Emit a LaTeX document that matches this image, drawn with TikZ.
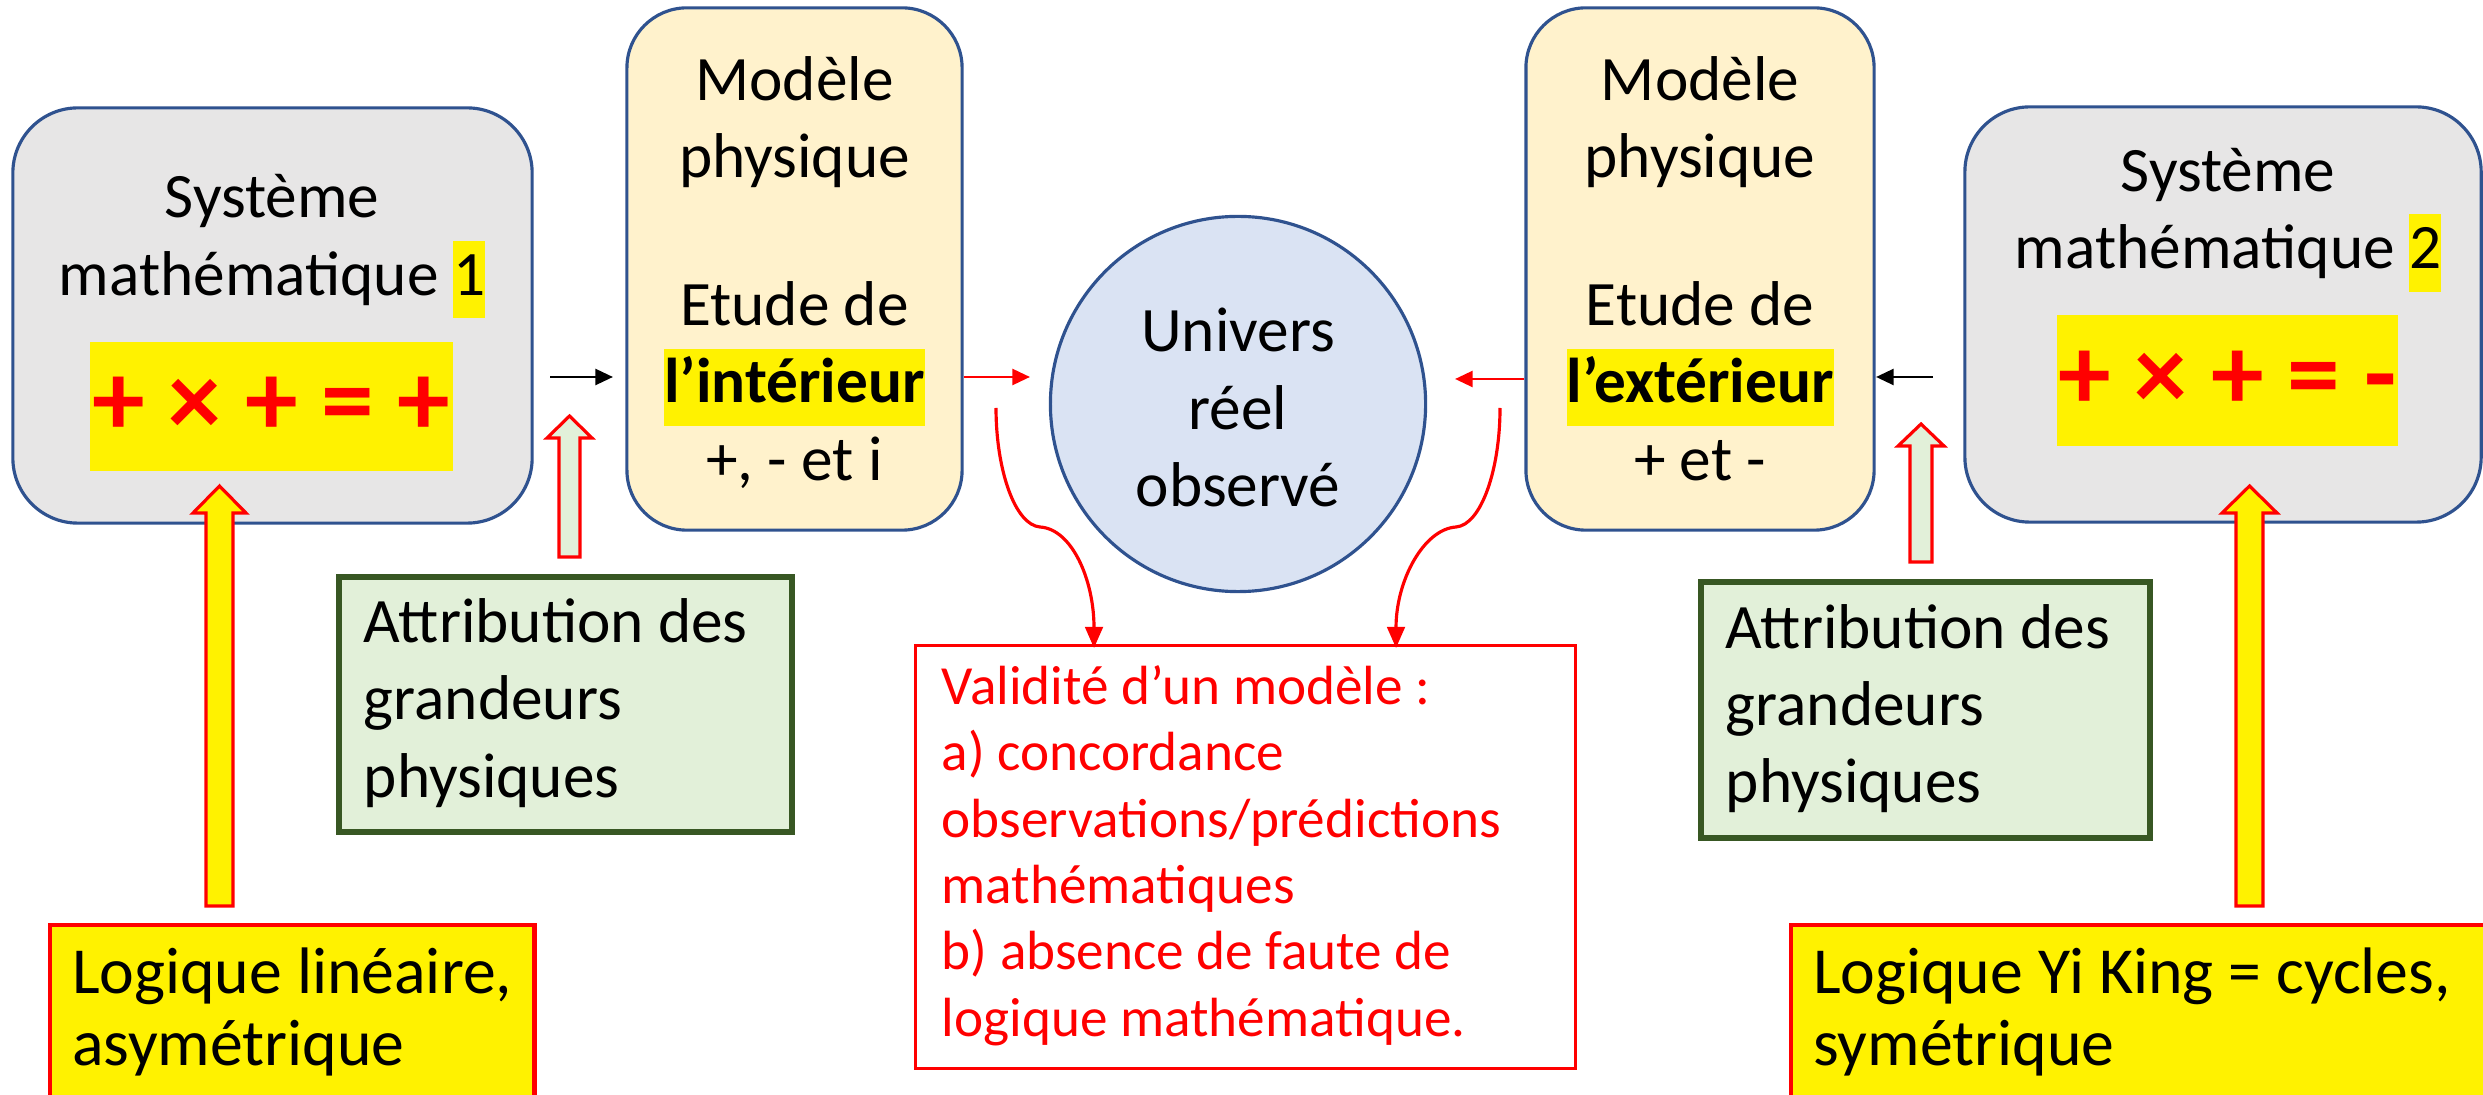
\documentclass[tikz,border=0pt]{standalone}
\usepackage{fontspec}
\setmainfont{Carlito}
\usetikzlibrary{positioning, shapes.geometric, arrows.meta}

\definecolor{sysgray}{HTML}{E7E6E6}
\definecolor{boxblue}{HTML}{2F528F}
\definecolor{modcream}{HTML}{FFF2CC}
\definecolor{univblue}{HTML}{DAE3F3}
\definecolor{grfill}{HTML}{E2F0D9}
\definecolor{grdark}{HTML}{385723}

\newcommand{\bigfs}{\fontsize{18}{22}\selectfont}
\newcommand{\logfs}{\fontsize{18.7}{20.5}\selectfont}
\newcommand{\fmlfs}{\fontsize{30}{36}\selectfont\bfseries}
\newcommand{\smallfs}{\fontsize{15.7}{18.9}\selectfont}
\newcommand{\hlite}[1]{{\setlength{\fboxsep}{0pt}\colorbox{yellow}{\strut#1}}}

\begin{document}
\begin{tikzpicture}[x=0.01cm, y=-0.01cm,
    sysbox/.style={draw=boxblue, fill=sysgray, line width=0.9pt, rounded corners=0.65cm,
      minimum height=4.15cm, inner sep=0pt},
    modbox/.style={draw=boxblue, fill=modcream, line width=0.9pt, rounded corners=0.6cm,
      minimum height=5.22cm, align=center, font=\bigfs, inner sep=0pt},
    univ/.style={circle, draw=boxblue, fill=univblue, line width=0.9pt,
      minimum size=3.75cm, align=center, font=\bigfs, inner sep=0pt},
    systxt/.style={align=center, font=\bigfs, inner sep=0pt},
    formula/.style={fill=yellow, text=red, font=\fmlfs, inner sep=0pt},
    grandeur/.style={draw=grdark, fill=grfill, line width=1.7pt, align=flush left,
      font=\bigfs, inner xsep=0.25cm, minimum height=2.53cm},
    validite/.style={draw=red, line width=0.9pt, text=red, align=flush left, font=\smallfs,
      inner xsep=0.26cm, text width=6.07cm, minimum height=4.08cm},
    logique/.style={draw=red, fill=yellow, line width=1.2pt, align=flush left, font=\logfs,
      inner xsep=0.22cm, minimum height=1.8cm, anchor=north west},
    blkarrow/.style={-{Triangle[length=5pt,width=4.5pt]}, line width=0.8pt},
    redarrow/.style={blkarrow, red},
    redcurve/.style={-{Triangle[length=6pt,width=5pt]}, line width=0.9pt, red},
    blockup/.style={draw=red, line width=0.9pt},
  ]
    \useasboundingbox (0,0) rectangle (2483,1095);

    % left: systeme 1 and modele interieur
    \node[sysbox, minimum width=5.19cm] (sysA) at (272.5,315.5) {};
    \node[systxt] (sysAtxt) at (272,241) {\strut Système\\mathématique \hlite{1}};
    \node[formula, minimum width=3.63cm, minimum height=1.29cm] (fmlA) at (271.5,406.5)
      {+ × + = +};
    \node[modbox, minimum width=3.35cm] (modA) at (794.5,269)
      {\rule{0pt}{18.8pt}Modèle\\physique\\[20pt]Etude de\\\hlite{\textbf{l’intérieur}}\\+, - et i\strut};

    % centre
    \node[univ] (univ) at (1238,404) {\rule{0pt}{21pt}Univers\\réel\\observé\strut};
    \node[validite] (valid) at (1245.5,857)
      {\strut Validité d’un modèle :\\a) concordance\\observations/prédictions\\mathématiques\\b) absence de faute de\\logique mathématique.\strut};

    % right: modele exterieur and systeme 2
    \node[modbox, minimum width=3.48cm] (modB) at (1700,269)
      {\rule{0pt}{18.8pt}Modèle\\physique\\[20pt]Etude de\\\hlite{\textbf{l’extérieur}}\\+ et -\strut};
    \node[sysbox, minimum width=5.16cm] (sysB) at (2223,314.5) {};
    \node[systxt] (sysBtxt) at (2228,214.5) {\strut Système\\mathématique \hlite{2}};
    \node[formula, minimum width=3.41cm, minimum height=1.31cm] (fmlB) at (2227.5,380.5)
      {+ × + = -};

    % grandeurs physiques
    \node[grandeur, text width=4.03cm] (grdA) at (565.5,704.5)
      {\strut Attribution des\\grandeurs\\physiques\strut};
    \node[grandeur, text width=3.99cm] (grdB) at (1925.5,710)
      {\strut Attribution des\\grandeurs\\physiques\strut};

    % logiques
    \node[logique, minimum width=4.74cm] (logA) at (48,923)
      {\strut Logique linéaire,\\asymétrique\strut};
    \node[logique, text width=6.6cm] (logB) at (1789,923)
      {\strut Logique Yi King = cycles,\\symétrique\strut};

    % straight arrows
    \coordinate (bA1) at (550,377);
    \coordinate (bA2) at (613,377);
    \coordinate (bB1) at (1933,377);
    \coordinate (bB2) at (1876,377);
    \draw[blkarrow] (bA1) -- (bA2);
    \draw[blkarrow] (bB1) -- (bB2);
    \coordinate (rA) at (1030,377);
    \coordinate (rB) at (1455,379);
    \draw[redarrow] (modA.east |- rA) -- (rA);
    \draw[redarrow] (modB.west |- rB) -- (rB);

    % curved arrows to validite
    \coordinate (cA) at (996,408);
    \coordinate (cAm) at (1040,527);
    \coordinate (cAe) at (1094,648);
    \coordinate (cB) at (1500,408);
    \coordinate (cBm) at (1456,527);
    \coordinate (cBe) at (1396,648);
    \draw[redcurve] (cA) .. controls (996,470) and (1015,525) .. (cAm)
      .. controls (1072,529) and (1094,580) .. (cAe);
    \draw[redcurve] (cB) .. controls (1500,470) and (1481,525) .. (cBm)
      .. controls (1424,529) and (1396,580) .. (cBe);

    % block arrows
    \draw[blockup, fill=grfill] (559,557) -- (559,438) -- (547,438) -- (569.5,416)
      -- (592,438) -- (580,438) -- (580,557) -- cycle;
    \draw[blockup, fill=grfill] (1910,562) -- (1910,446) -- (1898,446) -- (1921,424)
      -- (1944,446) -- (1932,446) -- (1932,562) -- cycle;
    \draw[blockup, fill=yellow] (206,906) -- (206,513) -- (193,513) -- (219.5,486)
      -- (246,513) -- (233,513) -- (233,906) -- cycle;
    \draw[blockup, fill=yellow] (2236,906) -- (2236,513) -- (2222,513) -- (2249.5,486)
      -- (2277,513) -- (2263,513) -- (2263,906) -- cycle;
  \end{tikzpicture}
\end{document}
